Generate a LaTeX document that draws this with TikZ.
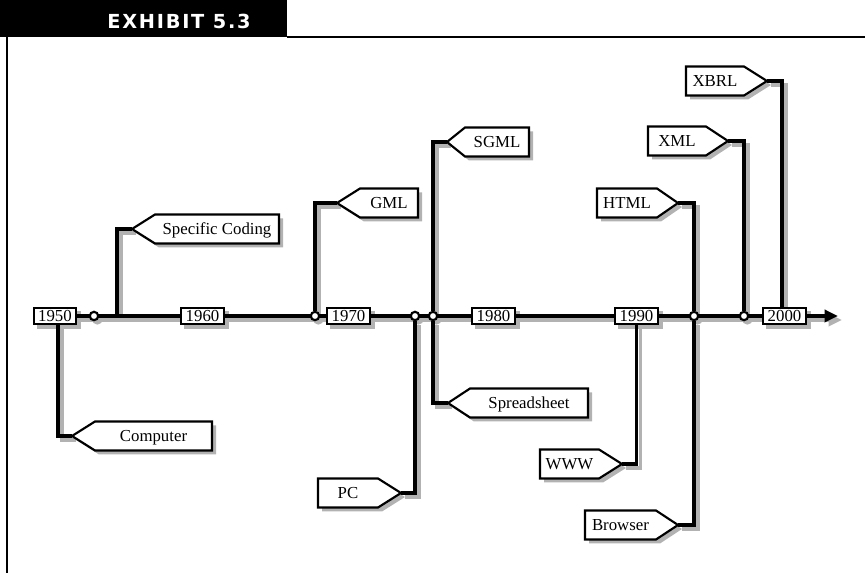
\documentclass[tikz,border=0pt]{standalone}
\usepackage{fontspec}
\setmainfont{Liberation Serif}
\newfontfamily\hdrfont[LetterSpace=9]{DejaVu Sans}
\usetikzlibrary{arrows.meta}
\pgfdeclarelayer{shadowlayer}
\pgfdeclarelayer{linelayer}
\pgfsetlayers{shadowlayer,linelayer,main}
\definecolor{shadowgray}{RGB}{178,178,178}
\tikzset{
  conn/.style={line width=2.5pt, line join=miter},
  connshadow/.style={line width=2.5pt, line join=miter, draw=shadowgray, transform canvas={shift={(3pt,-3pt)}}},
  yearbox/.style={draw, line width=1.5pt, fill=white, inner sep=0pt, minimum width=32pt, minimum height=12pt, text height=8.4pt, text depth=0pt, font=\fontsize{12.6}{14}\selectfont},
  tagbox/.style={draw, line width=1.6pt, fill=white, line join=miter},
  lbl/.style={anchor=base, inner sep=0pt, font=\fontsize{12.6}{14}\selectfont},
  junc/.style={circle, draw, fill=white, line width=1.6pt, inner sep=0pt, minimum size=6.3pt},
}
\newcommand\tagL[6]{%
  \coordinate (#1) at ({#2},{#3});
  \begin{pgfonlayer}{shadowlayer}
    \fill[shadowgray, transform canvas={shift={(3pt,-3pt)}}] ({#2},{#3}) -- ({#4},{#3-14.5}) -- ({#5},{#3-14.5}) -- ({#5},{#3+14.5}) -- ({#4},{#3+14.5}) -- cycle;
  \end{pgfonlayer}
  \draw[tagbox] ({#2},{#3}) -- ({#4},{#3-14.5}) -- ({#5},{#3-14.5}) -- ({#5},{#3+14.5}) -- ({#4},{#3+14.5}) -- cycle;
  \node[lbl] (#1-txt) at ({(#4+#5)/2},{#3+5.5}) {#6};}
\newcommand\tagR[6]{%
  \coordinate (#1) at ({#2},{#3});
  \begin{pgfonlayer}{shadowlayer}
    \fill[shadowgray, transform canvas={shift={(3pt,-3pt)}}] ({#2},{#3}) -- ({#5},{#3-14.5}) -- ({#4},{#3-14.5}) -- ({#4},{#3+14.5}) -- ({#5},{#3+14.5}) -- cycle;
  \end{pgfonlayer}
  \draw[tagbox] ({#2},{#3}) -- ({#5},{#3-14.5}) -- ({#4},{#3-14.5}) -- ({#4},{#3+14.5}) -- ({#5},{#3+14.5}) -- cycle;
  \node[lbl] (#1-txt) at ({(#4+#5)/2},{#3+5.5}) {#6};}
\newcommand\conn[2][]{%
  \begin{pgfonlayer}{shadowlayer}\draw[connshadow,#1] #2;\end{pgfonlayer}
  \begin{pgfonlayer}{linelayer}\draw[conn,#1] #2;\end{pgfonlayer}}
\newcommand\yearshadow[1]{%
  \begin{pgfonlayer}{shadowlayer}
    \fill[shadowgray] ([xshift=3pt,yshift=-3pt]#1.north west) rectangle ([xshift=3pt,yshift=-3pt]#1.south east);
  \end{pgfonlayer}}
\newcommand\juncshadow[1]{%
  \begin{pgfonlayer}{shadowlayer}
    \fill[shadowgray] ([xshift=2.5pt,yshift=-2.5pt]#1.center) circle (4pt);
  \end{pgfonlayer}}
\begin{document}
\begin{tikzpicture}[x=0.75pt, y=-0.75pt]
\useasboundingbox (0,0) rectangle (865,573);
% header and frame
\fill[black] (0,0) rectangle (287,37);
\node[white, anchor=base, inner sep=0pt, font=\hdrfont\bfseries\fontsize{14.5}{17}\selectfont] (hdr) at (179,28.5) {EXHIBIT 5.3};
\draw[line width=1.1pt] (287,37) -- (865,37);
\draw[line width=1.1pt] (7,37) -- (7,573);

% year boxes
\node[yearbox] (y1950) at (55,316) {1950};
\node[yearbox] (y1960) at (202.5,316) {1960};
\node[yearbox] (y1970) at (348.5,316) {1970};
\node[yearbox] (y1980) at (493.5,316) {1980};
\node[yearbox] (y1990) at (636.5,316) {1990};
\node[yearbox] (y2000) at (784.5,316) {2000};
\foreach \y in {y1950,y1960,y1970,y1980,y1990,y2000} {\yearshadow{\y}}

% junctions
\node[junc] (j1) at (94,316) {};
\node[junc] (j2) at (315,316) {};
\node[junc] (j3) at (415,316) {};
\node[junc] (j4) at (433,316) {};
\node[junc] (j5) at (694,316) {};
\node[junc] (j6) at (744,316) {};
\foreach \j in {j1,j2,j3,j4,j5,j6} {\juncshadow{\j}}
\coordinate (b1) at (117,316);
\coordinate (tend) at (838,316);

% tags
\tagL{tComputer}{72}{436}{95}{212}{Computer}
\tagL{tSpec}{132}{229}{155}{279}{Specific Coding}
\tagL{tGML}{337}{203}{360}{418}{GML}
\tagL{tSGML}{447}{142}{465}{529}{SGML}
\tagL{tSpread}{448}{403}{470}{588}{Spreadsheet}
\tagR{tPC}{401}{493}{318}{378}{PC}
\tagR{tWWW}{622}{464}{540}{599}{WWW}
\tagR{tBrowser}{678}{525}{585}{656}{Browser}
\tagR{tHTML}{678}{203}{597}{657}{HTML}
\tagR{tXML}{728}{141}{648}{706}{XML}
\tagR{tXBRL}{767}{81}{686}{744}{XBRL}

% connectors
\conn[-{Triangle[length=10pt,width=9pt]}]{(y1950.east) -- (tend)}
\conn{([xshift=2.25pt]y1950.south) |- (tComputer)}
\conn{(b1) |- (tSpec)}
\conn{(j2) |- (tGML)}
\conn{(j3) |- (tPC)}
\conn{(j4) |- (tSGML)}
\conn{(j4) |- (tSpread)}
\conn{(y1990.south) |- (tWWW)}
\conn{(j5) |- (tHTML)}
\conn{(j5) |- (tBrowser)}
\conn{(j6) |- (tXML)}
\conn{([xshift=-1.9pt]y2000.north) |- (tXBRL)}
\end{tikzpicture}
\end{document}
